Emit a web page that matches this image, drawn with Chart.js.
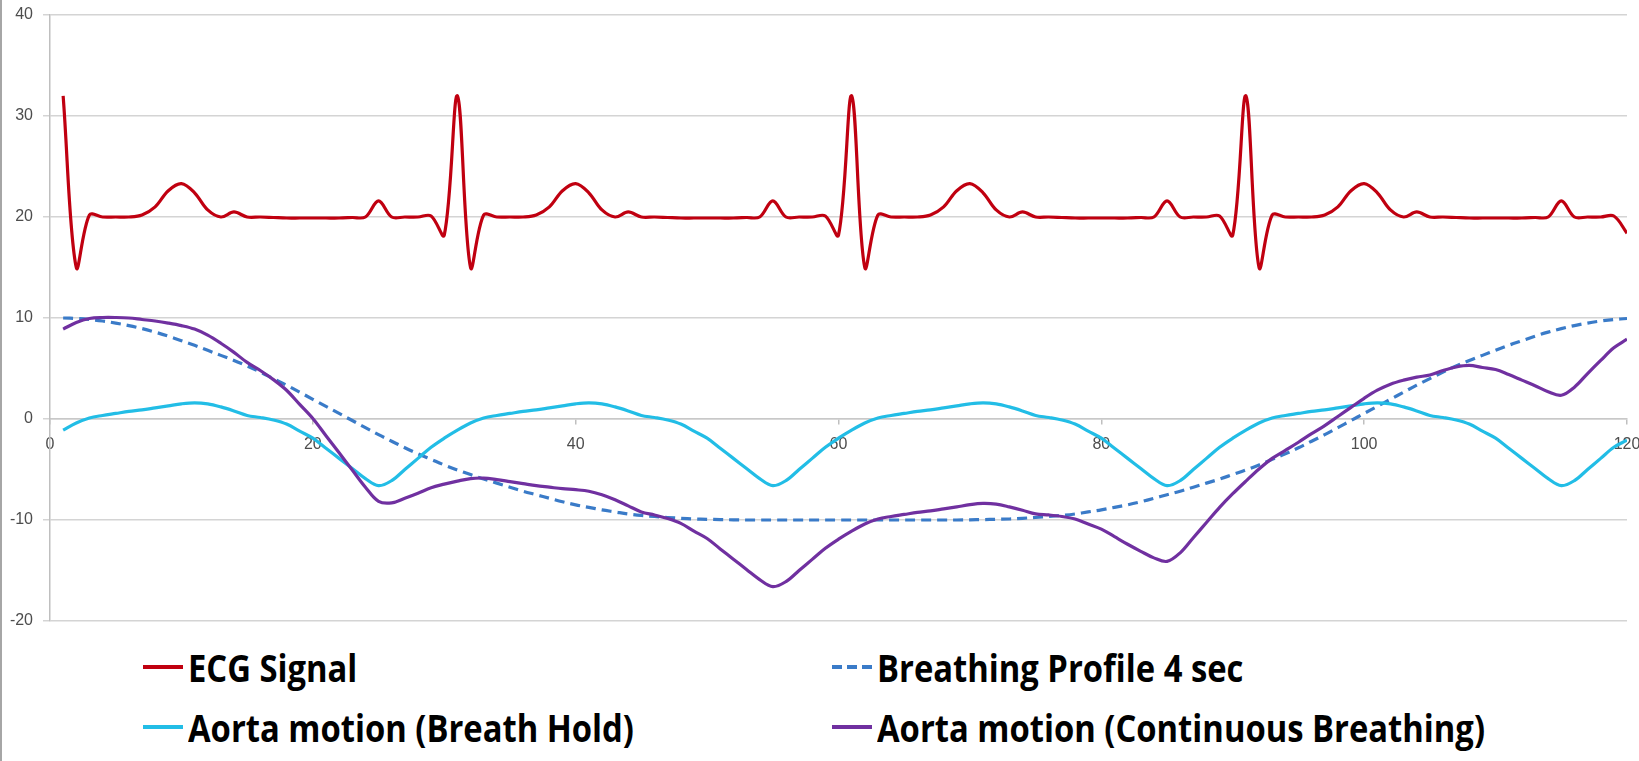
<!DOCTYPE html>
<html>
<head>
<meta charset="utf-8">
<script src="https://cdn.jsdelivr.net/npm/chart.js@4.4.1/dist/chart.umd.min.js"></script>
<style>
  html, body { margin: 0; padding: 0; background: #fff; }
  #wrap { position: relative; width: 1639px; height: 761px; overflow: hidden; }
  #frame-left { position: absolute; left: 0; top: 0; width: 2px; height: 761px; background: #a6a6a6; }
  #chart-box { position: absolute; left: 0; top: 0; width: 1639px; height: 640px; }
  .legend-item {
    position: absolute; display: flex; align-items: center; height: 50px;
    font-family: "Open Sans", "Noto Sans", sans-serif;
    font-weight: 700; font-size: 38px; color: #000; white-space: nowrap;
  }
  .legend-swatch { width: 40px; height: 4px; margin-right: 5px; flex: none; }
  .legend-text { display: inline-block; transform-origin: 0 50%; }
</style>
</head>
<body>
<div id="wrap">
  <div id="chart-box"><canvas id="motionChart"></canvas></div>
  <div id="legend"></div>
  <div id="frame-left"></div>
</div>
<script>
// Samples 1..120 (one sample per step on the x axis)
const xTicks = [0, 20, 40, 60, 80, 100, 120];
const yTicks = [-20, -10, 0, 10, 20, 30, 40];

const seriesLabels = [
  "ECG Signal",
  "Breathing Profile 4 sec",
  "Aorta motion (Breath Hold)",
  "Aorta motion (Continuous Breathing)"
];
const seriesColors = ["#c00010", "#3a7bc8", "#22bde6", "#7030a0"];

const ecgSignal = [
  32, 15, 20.2, 20, 20, 20, 20.2, 21, 22.6, 23.3,
  22.4, 20.7, 20, 20.5, 20, 20, 19.95, 19.9, 19.9, 19.9,
  19.9, 19.9, 19.95, 20, 21.6, 20, 20, 20, 20.1, 18.2,
  32, 15, 20.2, 20, 20, 20, 20.2, 21, 22.6, 23.3,
  22.4, 20.7, 20, 20.5, 20, 20, 19.95, 19.9, 19.9, 19.9,
  19.9, 19.9, 19.95, 20, 21.6, 20, 20, 20, 20.1, 18.2,
  32, 15, 20.2, 20, 20, 20, 20.2, 21, 22.6, 23.3,
  22.4, 20.7, 20, 20.5, 20, 20, 19.95, 19.9, 19.9, 19.9,
  19.9, 19.9, 19.95, 20, 21.6, 20, 20, 20, 20.1, 18.2,
  32, 15, 20.2, 20, 20, 20, 20.2, 21, 22.6, 23.3,
  22.4, 20.7, 20, 20.5, 20, 20, 19.95, 19.9, 19.9, 19.9,
  19.9, 19.9, 19.95, 20, 21.6, 20, 20, 20, 20.1, 18.4
];

const breathingProfile = [
  10, 9.95, 9.85, 9.7, 9.5, 9.25, 8.95, 8.6, 8.2, 7.75,
  7.3, 6.8, 6.3, 5.8, 5.25, 4.65, 4.0, 3.35, 2.65, 1.95,
  1.25, 0.55, -0.15, -0.85, -1.55, -2.2, -2.85, -3.45, -4.0, -4.55,
  -5.05, -5.5, -5.95, -6.35, -6.75, -7.15, -7.5, -7.85, -8.2, -8.5,
  -8.75, -9.0, -9.2, -9.4, -9.55, -9.65, -9.75, -9.83, -9.9, -9.93,
  -9.96, -9.98, -10, -10, -10, -10, -10, -10, -10, -10,
  -10, -10, -10, -10, -10, -10, -10, -10, -10, -9.98,
  -9.96, -9.93, -9.9, -9.83, -9.75, -9.65, -9.55, -9.4, -9.2, -9.0,
  -8.75, -8.5, -8.2, -7.85, -7.5, -7.15, -6.75, -6.35, -5.95, -5.5,
  -5.05, -4.55, -4.0, -3.45, -2.85, -2.2, -1.55, -0.85, -0.15, 0.55,
  1.25, 1.95, 2.65, 3.35, 4.0, 4.65, 5.25, 5.8, 6.3, 6.8,
  7.3, 7.75, 8.2, 8.6, 8.95, 9.25, 9.5, 9.7, 9.85, 9.95
];

const breathHold = [
  -1.1, -0.4, 0.1, 0.35, 0.55, 0.75, 0.9, 1.1, 1.3, 1.5,
  1.6, 1.5, 1.2, 0.8, 0.35, 0.15, -0.1, -0.5, -1.2, -1.9,
  -2.9, -3.9, -4.9, -5.9, -6.6, -6.1, -5.0, -3.9, -2.8, -1.9,
  -1.1, -0.4, 0.1, 0.35, 0.55, 0.75, 0.9, 1.1, 1.3, 1.5,
  1.6, 1.5, 1.2, 0.8, 0.35, 0.15, -0.1, -0.5, -1.2, -1.9,
  -2.9, -3.9, -4.9, -5.9, -6.6, -6.1, -5.0, -3.9, -2.8, -1.9,
  -1.1, -0.4, 0.1, 0.35, 0.55, 0.75, 0.9, 1.1, 1.3, 1.5,
  1.6, 1.5, 1.2, 0.8, 0.35, 0.15, -0.1, -0.5, -1.2, -1.9,
  -2.9, -3.9, -4.9, -5.9, -6.6, -6.1, -5.0, -3.9, -2.8, -1.9,
  -1.1, -0.4, 0.1, 0.35, 0.55, 0.75, 0.9, 1.1, 1.3, 1.5,
  1.6, 1.5, 1.2, 0.8, 0.35, 0.15, -0.1, -0.5, -1.2, -1.9,
  -2.9, -3.9, -4.9, -5.9, -6.6, -6.1, -5.0, -3.9, -2.8, -2.1
];

const continuousBreathing = [
  8.9, 9.55, 9.95, 10.05, 10.05, 10.0, 9.85, 9.7, 9.5, 9.25,
  8.9, 8.3, 7.5, 6.6, 5.6, 4.8, 3.9, 2.85, 1.45, 0.05,
  -1.65, -3.35, -5.05, -6.75, -8.15, -8.3, -7.85, -7.35, -6.8, -6.45,
  -6.15, -5.9, -5.85, -6.0, -6.2, -6.4, -6.6, -6.75, -6.9, -7.0,
  -7.15, -7.5, -8.0, -8.6, -9.2, -9.5, -9.85, -10.33, -11.1, -11.83,
  -12.86, -13.88, -14.9, -15.9, -16.6, -16.1, -15.0, -13.9, -12.8, -11.9,
  -11.1, -10.4, -9.9, -9.65, -9.45, -9.25, -9.1, -8.9, -8.7, -8.48,
  -8.36, -8.43, -8.7, -9.03, -9.4, -9.5, -9.65, -9.9, -10.4, -10.9,
  -11.65, -12.4, -13.1, -13.75, -14.1, -13.25, -11.75, -10.25, -8.75, -7.4,
  -6.15, -4.95, -3.9, -3.1, -2.3, -1.45, -0.65, 0.25, 1.15, 2.05,
  2.85, 3.45, 3.85, 4.15, 4.35, 4.8, 5.15, 5.3, 5.1, 4.9,
  4.4, 3.85, 3.3, 2.7, 2.35, 3.15, 4.5, 5.8, 7.05, 7.9
];

// pair each series with its sample position (1..120)
function toPoints(values) {
  return values.map((v, i) => ({ x: i + 1, y: v }));
}

function lineDataset(index, values, extra) {
  return Object.assign({
    label: seriesLabels[index],
    data: toPoints(values),
    borderColor: seriesColors[index],
    backgroundColor: seriesColors[index],
    borderWidth: 3.2,
    pointRadius: 0,
    tension: 0.35,
    fill: false
  }, extra);
}

const tickFont = { family: "'Liberation Sans', Arial, sans-serif", size: 16 };

const chart = new Chart(document.getElementById("motionChart").getContext("2d"), {
  type: "line",
  data: {
    datasets: [
      lineDataset(0, ecgSignal, { order: 3 }),
      lineDataset(1, breathingProfile, { order: 2, borderDash: [10, 6] }),
      lineDataset(2, breathHold, { order: 1 }),
      lineDataset(3, continuousBreathing, { order: 0 })
    ]
  },
  options: {
    responsive: true,
    maintainAspectRatio: false,
    animation: false,
    layout: { padding: { left: 0, right: 12, top: 15, bottom: 19 } },
    plugins: {
      legend: { display: false }, // custom legend below
      tooltip: { enabled: false }
    },
    scales: {
      x: {
        type: "linear",
        position: { y: 0 },
        min: 0,
        max: 120,
        afterFit: (scale) => {
          scale.height = 0;
          scale.paddingLeft = 0;
          scale.paddingRight = 0;
        },
        afterBuildTicks: (scale) => { scale.ticks = xTicks.map(v => ({ value: v })); },
        grid: { drawOnChartArea: false, drawTicks: true, tickLength: 5, color: "#bfbfbf", lineWidth: 1.5 },
        border: { display: true, color: "#c8c8c8", width: 1.5 },
        ticks: { color: "#4d4d4d", font: tickFont, padding: 11, maxRotation: 0 }
      },
      y: {
        type: "linear",
        min: -20,
        max: 40,
        afterFit: (scale) => {
          scale.width = 50;
          scale.paddingTop = 0;
          scale.paddingBottom = 0;
        },
        afterBuildTicks: (scale) => { scale.ticks = yTicks.map(v => ({ value: v })); },
        grid: { color: "#d4d4d4", lineWidth: 1.5, drawTicks: true, tickLength: 7 },
        border: { display: true, color: "#bfbfbf", width: 1.5 },
        ticks: { color: "#4d4d4d", font: tickFont, padding: 10 }
      }
    }
  }
});

// Custom two-column legend under the plot
function renderLegend() {
  const container = document.getElementById("legend");
  const slots = [
    { left: 143, top: 642 },
    { left: 832, top: 642 },
    { left: 143, top: 702 },
    { left: 832, top: 702 }
  ];
  const texts = [];
  seriesLabels.forEach((label, i) => {
    const item = document.createElement("div");
    item.className = "legend-item";
    item.style.left = slots[i].left + "px";
    item.style.top = slots[i].top + "px";
    const color = seriesColors[i];
    const swatchBg = i === 1
      ? `repeating-linear-gradient(to right, ${color} 0 10px, transparent 10px 15px)`
      : color;
    item.innerHTML = `<span class="legend-swatch" style="background:${swatchBg}"></span><span class="legend-text">${label}</span>`;
    container.appendChild(item);
    texts.push(item.querySelector(".legend-text"));
  });
  // the original legend font is a narrow one: squeeze so the longest label spans ~608px
  const squeeze = 608 / texts[3].getBoundingClientRect().width;
  texts.forEach(t => { t.style.transform = `scaleX(${squeeze})`; });
}
renderLegend();
</script>
</body>
</html>
